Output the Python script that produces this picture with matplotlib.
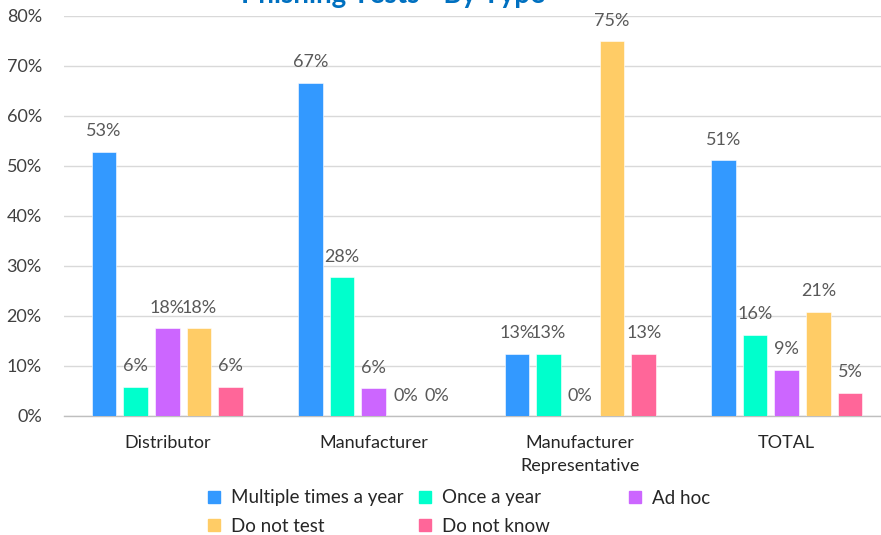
import matplotlib.pyplot as plt
from matplotlib.patches import Patch
from matplotlib.ticker import PercentFormatter
import numpy as np

# survey results, share of respondents per company type
categories = ["Distributor", "Manufacturer", "Manufacturer\nRepresentative", "TOTAL"]
series_names = ["Multiple times a year", "Once a year", "Ad hoc", "Do not test", "Do not know"]
multiple_times = [52.9, 66.7, 12.5, 51.2]
once_a_year = [5.9, 27.8, 12.5, 16.3]
ad_hoc = [17.6, 5.6, 0.0, 9.3]
do_not_test = [17.6, 0.0, 75.0, 20.9]
do_not_know = [5.9, 0.0, 12.5, 4.7]

colors = ["#3399FF", "#00FFCC", "#CC66FF", "#FFCC66", "#FF6699"]
series = [multiple_times, once_a_year, ad_hoc, do_not_test, do_not_know]

plt.rcParams['font.family'] = ['Lato', 'DejaVu Sans']

W, H = 881, 535
fig = plt.figure(figsize=(W / 100, H / 100), dpi=100)
# axes runs a bit past the right edge on purpose
ax = fig.add_axes([64 / W, (H - 416) / H, 826 / W, 400 / H])

x = np.arange(len(categories))
step = 0.1535
width = 0.119

for i, (vals, col) in enumerate(zip(series, colors)):
    pos = x + (i - 2) * step
    ax.bar(pos, vals, width=width, color=col, edgecolor="white", linewidth=0.4, zorder=3)
    for px, v in zip(pos, vals):
        # round half up like Excel does (12.5 -> 13)
        ax.annotate(f"{int(v + 0.5)}%", (px, v), xytext=(0, 11), textcoords="offset points",
                    ha="center", va="baseline", fontsize=13, color="#595959")

ax.set_xlim(-0.5, len(categories) - 0.5)
ax.set_ylim(0, 80)
ax.set_yticks(np.arange(0, 81, 10))
ax.yaxis.set_major_formatter(PercentFormatter(decimals=0))
ax.set_xticks(x)
ax.set_xticklabels(categories, fontsize=13, color="#262626", linespacing=1.5)
ax.tick_params(axis="y", length=0, pad=16, labelsize=13, labelcolor="#404040")
ax.tick_params(axis="x", length=0, pad=14)

ax.grid(axis="y", color="#D9D9D9", linewidth=1, zorder=0)
for s in ["top", "right", "left"]:
    ax.spines[s].set_visible(False)
ax.spines["bottom"].set_color("#BFBFBF")
ax.spines["bottom"].set_linewidth(1)

fig.text(393 / W, 1 - 3 / H, "Phishing Tests - By Type", ha="center", va="baseline",
         fontsize=20, fontweight="bold", color="#0070C0")

# legend laid out in three fixed-width columns
col_x = [208, 419, 629]
row_y = [498, 526]
for k, (name, col) in enumerate(zip(series_names, colors)):
    r, c = divmod(k, 3)
    leg = fig.legend(handles=[Patch(color=col)], labels=[name], loc="center left",
                     bbox_to_anchor=(col_x[c] / W, 1 - row_y[r] / H), frameon=False,
                     fontsize=13.5, handlelength=0.65, handleheight=0.65, handletextpad=0.6,
                     borderpad=0, borderaxespad=0)
    for t in leg.get_texts():
        t.set_color("#262626")

fig.savefig("out.png", dpi=100)
